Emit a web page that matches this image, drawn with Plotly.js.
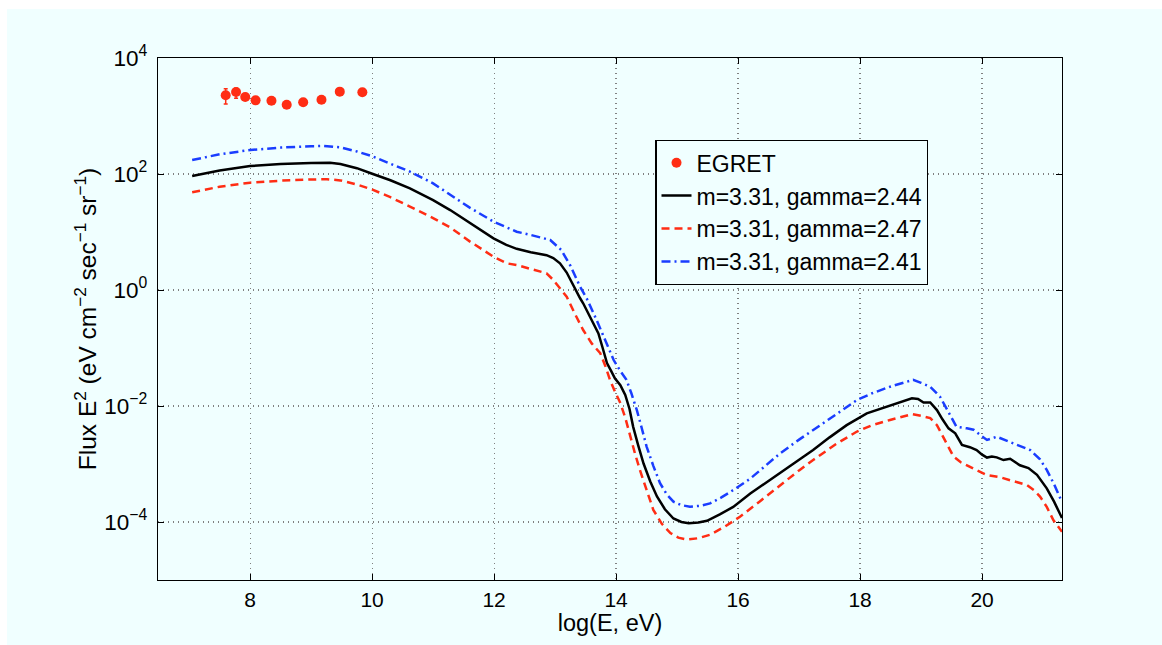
<!DOCTYPE html>
<html>
<head>
<meta charset="utf-8">
<script src="https://cdn.plot.ly/plotly-3.0.1.min.js"></script>
<style>
html, body { margin: 0; padding: 0; background: #ffffff; }
#chart { position: absolute; left: 7px; top: 9px; width: 1155px; height: 636px; }
</style>
</head>
<body>
<div id="chart"></div>
<script>
// EGRET data points
var egretX = [7.60, 7.77, 7.92, 8.09, 8.35, 8.60, 8.87, 9.17, 9.47, 9.84];
var egretY = [2275, 2594, 2130, 1862, 1837, 1567, 1722, 1905, 2630, 2570];
var egretErrPlus = [676, 426, 60, 50, 50, 45, 50, 55, 70, 70];
var egretErrMinus = [664, 576, 60, 50, 50, 45, 50, 55, 70, 70];

// m=3.31, gamma=2.44 (black solid)
var blackX = [7.05, 7.5, 8.0, 8.5, 9.0, 9.31, 9.48, 9.75, 9.99, 10.3, 10.62, 11.0, 11.28, 11.6, 11.99, 12.2, 12.37, 12.6, 12.86, 12.97, 13.08, 13.19, 13.3, 13.41, 13.46, 13.6, 13.71, 13.78, 13.85, 13.92, 13.98, 14.07, 14.15, 14.22, 14.28, 14.36, 14.45, 14.56, 14.67, 14.8, 14.94, 15.07, 15.19, 15.35, 15.49, 15.7, 15.92, 16.2, 16.45, 16.69, 17.0, 17.23, 17.5, 17.78, 18.11, 18.3, 18.55, 18.7, 18.85, 18.95, 19.04, 19.15, 19.26, 19.35, 19.45, 19.56, 19.67, 19.8, 19.91, 20.0, 20.08, 20.16, 20.24, 20.35, 20.46, 20.62, 20.76, 20.9, 21.06, 21.18, 21.31];
var blackY = [92.5, 115, 137, 148, 155, 157, 149, 126, 102, 78, 56.6, 35.5, 23.9, 14.5, 7.78, 6.0, 5.13, 4.47, 3.98, 3.55, 2.88, 2.0, 1.17, 0.72, 0.59, 0.30, 0.178, 0.10, 0.055, 0.040, 0.030, 0.0229, 0.0155, 0.0089, 0.00437, 0.00214, 1.02e-3, 5.0e-4, 2.75e-4, 1.66e-4, 1.15e-4, 1.0e-4, 9.55e-5, 9.8e-5, 1.05e-4, 1.35e-4, 1.82e-4, 3.09e-4, 4.68e-4, 6.9e-4, 1.17e-3, 1.74e-3, 2.88e-3, 4.68e-3, 7.48e-3, 8.7e-3, 1.05e-2, 1.17e-2, 1.355e-2, 1.32e-2, 1.15e-2, 1.15e-2, 8.5e-3, 5.9e-3, 4.12e-3, 3.39e-3, 2.14e-3, 1.95e-3, 1.74e-3, 1.45e-3, 1.29e-3, 1.35e-3, 1.30e-3, 1.17e-3, 1.23e-3, 9.5e-4, 8.5e-4, 6.5e-4, 3.8e-4, 2.24e-4, 1.17e-4];

// m=3.31, gamma=2.47 (red dashed)
var redX = [7.05, 7.5, 8.0, 8.5, 9.0, 9.26, 9.48, 9.75, 9.99, 10.3, 10.62, 11.0, 11.28, 11.6, 11.99, 12.21, 12.37, 12.64, 12.86, 12.97, 13.08, 13.19, 13.32, 13.46, 13.6, 13.74, 13.82, 13.9, 13.98, 14.07, 14.15, 14.23, 14.31, 14.39, 14.5, 14.61, 14.75, 14.89, 15.02, 15.16, 15.35, 15.54, 15.78, 16.03, 16.35, 16.69, 17.0, 17.23, 17.6, 17.95, 18.2, 18.49, 18.7, 18.85, 19.0, 19.15, 19.26, 19.4, 19.53, 19.65, 19.75, 19.9, 20.08, 20.3, 20.5, 20.73, 20.85, 20.95, 21.06, 21.17, 21.31];
var redY = [48.3, 60.3, 70.8, 76.7, 80.4, 81.3, 77.6, 66.1, 54.6, 39.8, 27.4, 17.4, 12.0, 6.9, 3.75, 2.88, 2.69, 2.21, 1.94, 1.49, 1.07, 0.767, 0.398, 0.204, 0.120, 0.0813, 0.050, 0.0282, 0.0178, 0.0112, 6.3e-3, 2.95e-3, 1.51e-3, 7.9e-4, 3.47e-4, 1.62e-4, 9.3e-5, 6.46e-5, 5.37e-5, 5.0e-5, 5.25e-5, 6.03e-5, 8.3e-5, 1.23e-4, 2.24e-4, 4.37e-4, 7.76e-4, 1.17e-3, 2.19e-3, 3.63e-3, 4.68e-3, 5.75e-3, 6.6e-3, 7.24e-3, 6.76e-3, 6.17e-3, 4.68e-3, 2.51e-3, 1.35e-3, 1.07e-3, 9.6e-4, 7.9e-4, 6.46e-4, 5.9e-4, 5.1e-4, 4.37e-4, 3.55e-4, 2.75e-4, 1.82e-4, 1.07e-4, 6.76e-5];

// m=3.31, gamma=2.41 (blue dash-dot)
var blueX = [7.05, 7.5, 8.0, 8.5, 9.0, 9.2, 9.48, 9.75, 9.99, 10.3, 10.62, 11.0, 11.28, 11.6, 11.99, 12.37, 12.6, 12.92, 13.1, 13.25, 13.41, 13.52, 13.68, 13.82, 13.96, 14.07, 14.17, 14.25, 14.34, 14.42, 14.5, 14.61, 14.72, 14.83, 14.94, 15.07, 15.21, 15.38, 15.54, 15.72, 15.92, 16.2, 16.45, 16.69, 17.0, 17.23, 17.6, 17.95, 18.2, 18.49, 18.7, 18.87, 19.0, 19.15, 19.31, 19.45, 19.58, 19.75, 19.86, 20.0, 20.08, 20.24, 20.51, 20.79, 20.95, 21.06, 21.18, 21.31];
var blueY = [174, 219, 259, 285, 301, 304, 288, 245, 204, 151, 110, 69, 43.7, 26.3, 15.1, 10.1, 8.9, 7.28, 4.9, 2.63, 1.14, 0.71, 0.304, 0.141, 0.062, 0.040, 0.0282, 0.0166, 8.5e-3, 4.17e-3, 2.0e-3, 9.3e-4, 4.68e-4, 3.0e-4, 2.24e-4, 1.95e-4, 1.84e-4, 1.9e-4, 2.09e-4, 2.63e-4, 3.55e-4, 5.6e-4, 9.3e-4, 1.53e-3, 2.63e-3, 3.89e-3, 7.08e-3, 1.27e-2, 1.66e-2, 2.15e-2, 2.51e-2, 2.82e-2, 2.51e-2, 2.15e-2, 1.45e-2, 7.9e-3, 4.4e-3, 4.12e-3, 3.89e-3, 3.0e-3, 2.6e-3, 2.95e-3, 2.29e-3, 1.74e-3, 1.2e-3, 7.9e-4, 4.47e-4, 2.19e-4];

var xTickVals = [8, 10, 12, 14, 16, 18, 20];
var yTickVals = [1e-4, 1e-2, 1, 1e2, 1e4];
var yTickText = ['10<sup>−4</sup>', '10<sup>−2</sup>', '10<sup>0</sup>', '10<sup>2</sup>', '10<sup>4</sup>'];

var seriesNames = ['EGRET', 'm=3.31, gamma=2.44', 'm=3.31, gamma=2.47', 'm=3.31, gamma=2.41'];

var FONT = 'Liberation Sans, Arial, Helvetica, sans-serif';
var RED = '#ff2d14';
var BLUE = '#1a3dff';

var traces = [
  {
    x: egretX, y: egretY, name: seriesNames[0], type: 'scatter', mode: 'markers',
    marker: {color: RED, size: 10},
    error_y: {type: 'data', symmetric: false, array: egretErrPlus, arrayminus: egretErrMinus,
              color: RED, thickness: 1.5, width: 2}
  },
  {
    x: blackX, y: blackY, name: seriesNames[1], type: 'scatter', mode: 'lines',
    line: {color: '#000000', width: 2.5}
  },
  {
    x: redX, y: redY, name: seriesNames[2], type: 'scatter', mode: 'lines',
    line: {color: RED, width: 2.5, dash: '8px,5px'}
  },
  {
    x: blueX, y: blueY, name: seriesNames[3], type: 'scatter', mode: 'lines',
    line: {color: BLUE, width: 2.5, dash: '9px,4px,2px,4px'}
  }
];

var layout = {
  width: 1155, height: 636,
  margin: {l: 151, r: 100, t: 49, b: 65},
  paper_bgcolor: '#f0ffff',
  plot_bgcolor: '#f0ffff',
  font: {family: FONT, size: 21, color: '#000'},
  showlegend: true,
  legend: {
    x: 0.55, y: 0.843, xanchor: 'left', yanchor: 'top',
    bgcolor: '#f0ffff', bordercolor: '#000', borderwidth: 1.3,
    font: {family: FONT, size: 23, color: '#000'},
    tracegroupgap: 0, itemwidth: 30
  },
  xaxis: {
    range: [6.49, 21.31],
    tickvals: xTickVals,
    ticks: 'inside', ticklen: 6, tickcolor: '#000',
    showline: true, linecolor: '#000', linewidth: 1.3, mirror: 'ticks',
    showgrid: true, gridcolor: '#808080', griddash: '1px,4px', gridwidth: 1.2,
    zeroline: false,
    tickfont: {family: FONT, size: 21},
    title: {text: 'log(E, eV)', font: {family: FONT, size: 23.5}, standoff: 0}
  },
  yaxis: {
    type: 'log',
    range: [-5, 4],
    tickvals: yTickVals, ticktext: yTickText,
    ticks: 'inside', ticklen: 6, tickcolor: '#000',
    showline: true, linecolor: '#000', linewidth: 1.3, mirror: 'ticks',
    showgrid: true, gridcolor: '#808080', griddash: '1px,4px', gridwidth: 1.2,
    zeroline: false,
    tickfont: {family: FONT, size: 22.5},
    ticklabelstandoff: 5,
    title: {text: 'Flux E<sup>2</sup> (eV cm<sup>−2</sup> sec<sup>−1</sup> sr<sup>−1</sup>)', font: {family: FONT, size: 24.5}, standoff: 0}
  }
};

Plotly.newPlot('chart', traces, layout, {displayModeBar: false, staticPlot: true});
</script>
</body>
</html>
